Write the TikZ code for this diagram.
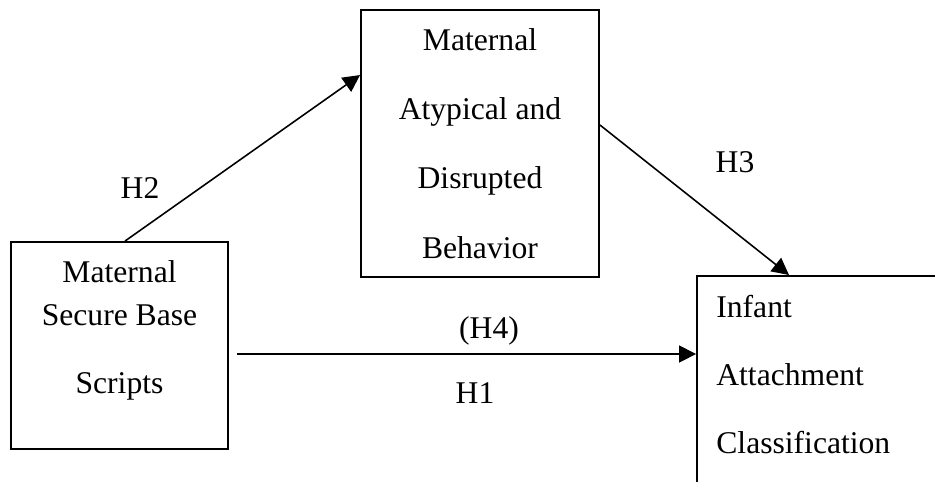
\documentclass[tikz,border=0pt]{standalone}
\usepackage{fontspec}
\setmainfont{Liberation Serif}
\usetikzlibrary{arrows.meta}

\tikzset{
  box/.style={draw, line width=1.1pt, inner sep=0pt},
  link/.style={line width=0.9pt, -{Triangle[length=0.34cm,width=0.34cm]}},
  lbl/.style={anchor=base, inner sep=0pt}
}

\begin{document}
\begin{tikzpicture}[x=0.02cm, y=-0.02cm, font=\fontsize{18pt}{22pt}\selectfont]
\useasboundingbox (0, 0) rectangle (935, 481);
\clip (0, 0) rectangle (935, 481);

% boxes
\node[box, minimum width=4.34cm, minimum height=4.14cm] (msb) at (119.5, 345.5){};
\node[box, minimum width=4.76cm, minimum height=5.34cm] (mad) at (480, 143.5){};
\node[box, minimum width=5.26cm, minimum height=4.48cm] (iac) at (828.5, 388){};

% box texts (base = last line)
\node[lbl, align=center, font=\fontsize{18pt}{24.4pt}\selectfont] (msbtext) at (119.5, 393){Maternal\\Secure Base\\[0.5cm]Scripts};
\node[lbl, align=center, font=\fontsize{18pt}{39.4pt}\selectfont] (madtext) at (480, 258){Maternal\\Atypical and\\Disrupted\\Behavior};
\node[lbl, anchor=base west, align=left, font=\fontsize{18pt}{38.7pt}\selectfont] (iactext) at (716, 453){Infant\\Attachment\\Classification};

% arrows
\coordinate (h1start) at (237, 354);
\draw[link] ([xshift=0.11cm]msb.north) -- ([yshift=1.37cm]mad.west);
\draw[link] ([yshift=0.37cm]mad.east) -- ([xshift=1.86cm]iac.north west);
\draw[link] (h1start) -- (h1start -| iac.west);

% labels
\node[lbl] (h2) at (140, 198){H2};
\node[lbl] (h3) at (735, 172){H3};
\node[lbl] (h4) at (489, 338){(H4)};
\node[lbl] (h1) at (475, 403){H1};
\end{tikzpicture}
\end{document}
